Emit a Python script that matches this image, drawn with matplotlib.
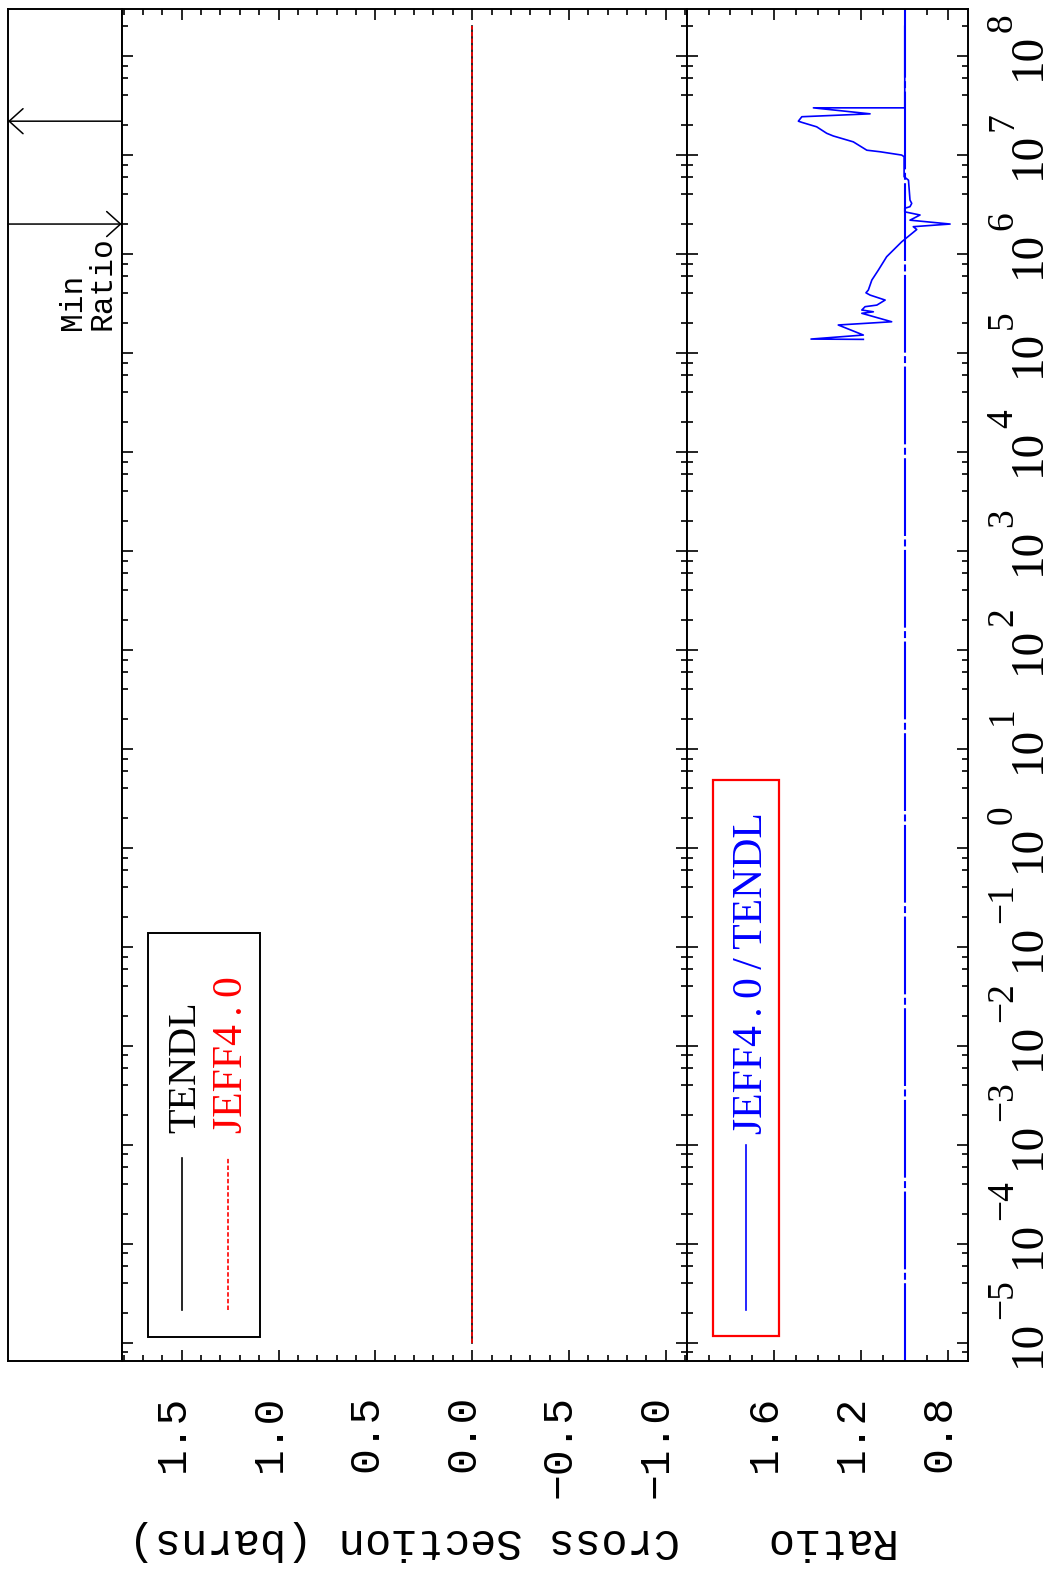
import matplotlib
matplotlib.use('Agg')
import matplotlib.pyplot as plt
import numpy as np
from matplotlib.ticker import MultipleLocator, LogLocator, NullLocator
from matplotlib.transforms import ScaledTranslation, blended_transform_factory
from matplotlib.patches import Rectangle
from matplotlib.lines import Line2D

plt.rcParams['mathtext.fontset'] = 'stix'
plt.rcParams['lines.scale_dashes'] = False

# cross sections (barns) vs energy (eV)
xs_energy = [1e-5, 2e8]
tendl_xs = [0.0, 0.0]
jeff_xs = [0.0, 0.0]

# ratio JEFF4.0/TENDL
ratio_energy = [1.374e5, 1.384e5, 1.52e5, 1.92e5, 2.07e5, 2.52e5, 2.61e5, 2.72e5,
                2.94e5, 3.05e5, 3.43e5, 3.85e5, 4.06e5, 4.33e5, 5.46e5, 6.89e5,
                9.40e5, 1.33e6, 1.77e6, 1.89e6, 2.01e6, 2.20e6, 2.48e6, 2.67e6,
                2.90e6, 3.01e6, 3.25e6, 3.51e6, 5.58e6, 6.04e6, 9.62e6, 1.0e7,
                1.08e7, 1.12e7, 1.36e7, 1.56e7, 1.66e7, 1.93e7, 2.14e7, 2.20e7,
                2.44e7, 2.61e7, 3.0e7, 3.0e7, 2.0e8]
ratio_vals = [1.190, 1.430, 1.190, 1.305, 1.060, 1.197, 1.144, 1.197,
              1.182, 1.128, 1.090, 1.159, 1.178, 1.167, 1.151, 1.121,
              1.083, 1.014, 0.945, 0.961, 0.792, 0.976, 0.930, 1.000,
              1.000, 0.976, 0.968, 0.976, 0.983, 1.003, 1.003, 1.014,
              1.113, 1.174, 1.236, 1.328, 1.358, 1.404, 1.472, 1.488,
              1.472, 1.159, 1.419, 1.000, 1.000]

cs_ticks = [1.5, 1.0, 0.5, 0.0, -0.5, -1.0]
cs_ticklabels = ['1.5', '1.0', '0.5', '0.0', '\u22120.5', '\u22121.0']
ratio_ticks = [1.6, 1.2, 0.8]
ratio_ticklabels = ['1.6', '1.2', '0.8']
decades = list(range(-5, 9))

W, H = 1048, 1573
fig = plt.figure(figsize=(W / 100, H / 100), dpi=100)

def box(x0, x1, y0=9.3, y1=1360.7):
    return [x0 / W, 1 - y1 / H, (x1 - x0) / W, (y1 - y0) / H]

def off(dx, dy):
    return ScaledTranslation(dx / 100, dy / 100, fig.dpi_scale_trans)

def fx(x):
    return x / W

def fy(y):
    return 1 - y / H

ax_s = fig.add_axes(box(8, 121.7))
ax_c = fig.add_axes(box(121.7, 686.7))
ax_r = fig.add_axes(box(686.7, 968))

for ax in (ax_s, ax_c, ax_r):
    ax.set_yscale('log')
    ax.set_ylim(6.6e-6, 2.97e8)
    for sp in ax.spines.values():
        sp.set_linewidth(1.4)

# cross section panel
ax_c.plot(tendl_xs, xs_energy, color='black', lw=1.2)
ax_c.plot(jeff_xs, xs_energy, color='red', lw=1.2, dashes=(3.2, 1.6))
ax_c.set_xlim(1.81, -1.108)
ax_c.xaxis.set_major_locator(MultipleLocator(0.5))
ax_c.xaxis.set_minor_locator(MultipleLocator(0.1))

# ratio panel
ax_r.axvline(1.0, color='blue', lw=1.5, dashes=(56, 2.5, 5, 2.5))
ax_r.plot(ratio_vals, ratio_energy, color='blue', lw=1.2)
ax_r.set_xlim(2.0, 0.71)
ax_r.xaxis.set_major_locator(MultipleLocator(0.4))
ax_r.xaxis.set_minor_locator(MultipleLocator(0.1))

for ax in (ax_c, ax_r):
    ax.yaxis.set_major_locator(LogLocator(base=10, numticks=30))
    ax.yaxis.set_minor_locator(LogLocator(base=10, subs=(2, 4, 6, 8), numticks=30))
    ax.tick_params(which='both', direction='in', top=True, bottom=True, left=True,
                   right=True, labelbottom=False, labelleft=False, width=1.2)
    ax.tick_params(which='major', length=8)
    ax.tick_params(which='minor', length=4.5)

# value tick labels (rotated)
for v, lab in zip(cs_ticks, cs_ticklabels):
    ax_c.text(v, 0, lab, transform=ax_c.get_xaxis_transform() + off(11, -34),
              rotation=90, ha='right', va='top', family='Liberation Mono', fontsize=31)
for v, lab in zip(ratio_ticks, ratio_ticklabels):
    ax_r.text(v, 0, lab, transform=ax_r.get_xaxis_transform() + off(11, -34),
              rotation=90, ha='right', va='top', family='Liberation Mono', fontsize=31)

# energy tick labels
for k in decades:
    e = 10.0 ** k
    ax_r.text(1, e, '10', transform=ax_r.get_yaxis_transform() + off(72, -24),
              rotation=90, rotation_mode='anchor', ha='left', va='baseline',
              family='Liberation Serif', fontsize=34)
    ax_r.text(1, e, str(k).replace('-', '\u2212'),
              transform=ax_r.get_yaxis_transform() + off(44, 24),
              rotation=90, rotation_mode='anchor', ha='left', va='baseline',
              family='Liberation Serif', fontsize=27)

# axis labels
ax_c.text(0.5, 0, 'Cross Section (barns)', transform=ax_c.transAxes + off(0, -180),
          rotation=180, ha='center', va='center', family='Liberation Mono', fontsize=31.5)
ax_r.text(0.5, 0, 'Ratio', transform=ax_r.transAxes + off(0, -180),
          rotation=180, ha='center', va='center', family='Liberation Mono', fontsize=31.5)

# min / max ratio strip
ax_s.set_xticks([])
ax_s.yaxis.set_minor_locator(NullLocator())
ax_s.tick_params(which='both', left=False, right=False, labelleft=False)
e_max = ratio_energy[int(np.argmax(ratio_vals))]
e_min = ratio_energy[int(np.argmin(ratio_vals))]
aprops = dict(arrowstyle='->,head_length=0.5,head_width=0.45', lw=1.1, color='black',
              shrinkA=0, shrinkB=0, mutation_scale=20)
ax_s.annotate('', xy=(0, e_max), xytext=(1, e_max),
              xycoords=('axes fraction', 'data'), arrowprops=aprops)
ax_s.annotate('', xy=(1, e_min), xytext=(0, e_min),
              xycoords=('axes fraction', 'data'), arrowprops=aprops)
strip_tr = blended_transform_factory(ax_s.transAxes, ax_s.transData)
ax_s.text(1, e_min, 'Min\nRatio', transform=strip_tr + off(-4, -106), rotation=90,
          ha='right', va='bottom', multialignment='left', linespacing=0.97,
          family='Liberation Mono', fontsize=22.5)

# legend, cross section panel
fig.add_artist(Rectangle((fx(148), fy(1337)), (260 - 148) / W, (1337 - 933) / H,
                         transform=fig.transFigure, fill=False, ec='black', lw=1.4))
fig.add_artist(Line2D([fx(182), fx(182)], [fy(1310), fy(1158)], transform=fig.transFigure,
                      color='black', lw=1.2))
fig.add_artist(Line2D([fx(228), fx(228)], [fy(1310), fy(1158)], transform=fig.transFigure,
                      color='red', lw=1.2, dashes=(3.2, 1.6)))
fig.text(fx(195), fy(1133), 'TENDL', rotation=90, rotation_mode='anchor', ha='left',
         va='baseline', family='Liberation Serif', fontsize=29)
fig.text(fx(242), fy(1133), 'JEFF4\u2009.\u20090', color='red', rotation=90,
         rotation_mode='anchor', ha='left', va='baseline', family='Liberation Serif',
         fontsize=30)

# legend, ratio panel
fig.add_artist(Rectangle((fx(713), fy(1336)), (779 - 713) / W, (1336 - 780) / H,
                         transform=fig.transFigure, fill=False, ec='red', lw=1.6))
fig.add_artist(Line2D([fx(746), fx(746)], [fy(1310), fy(1145)], transform=fig.transFigure,
                      color='blue', lw=1.2))
fig.text(fx(762), fy(1134), 'JEFF4\u2009.\u20090\u2009/\u2009TENDL', color='blue', rotation=90,
         rotation_mode='anchor', ha='left', va='baseline', family='Liberation Serif',
         fontsize=30)

fig.savefig('out.png', dpi=100)
